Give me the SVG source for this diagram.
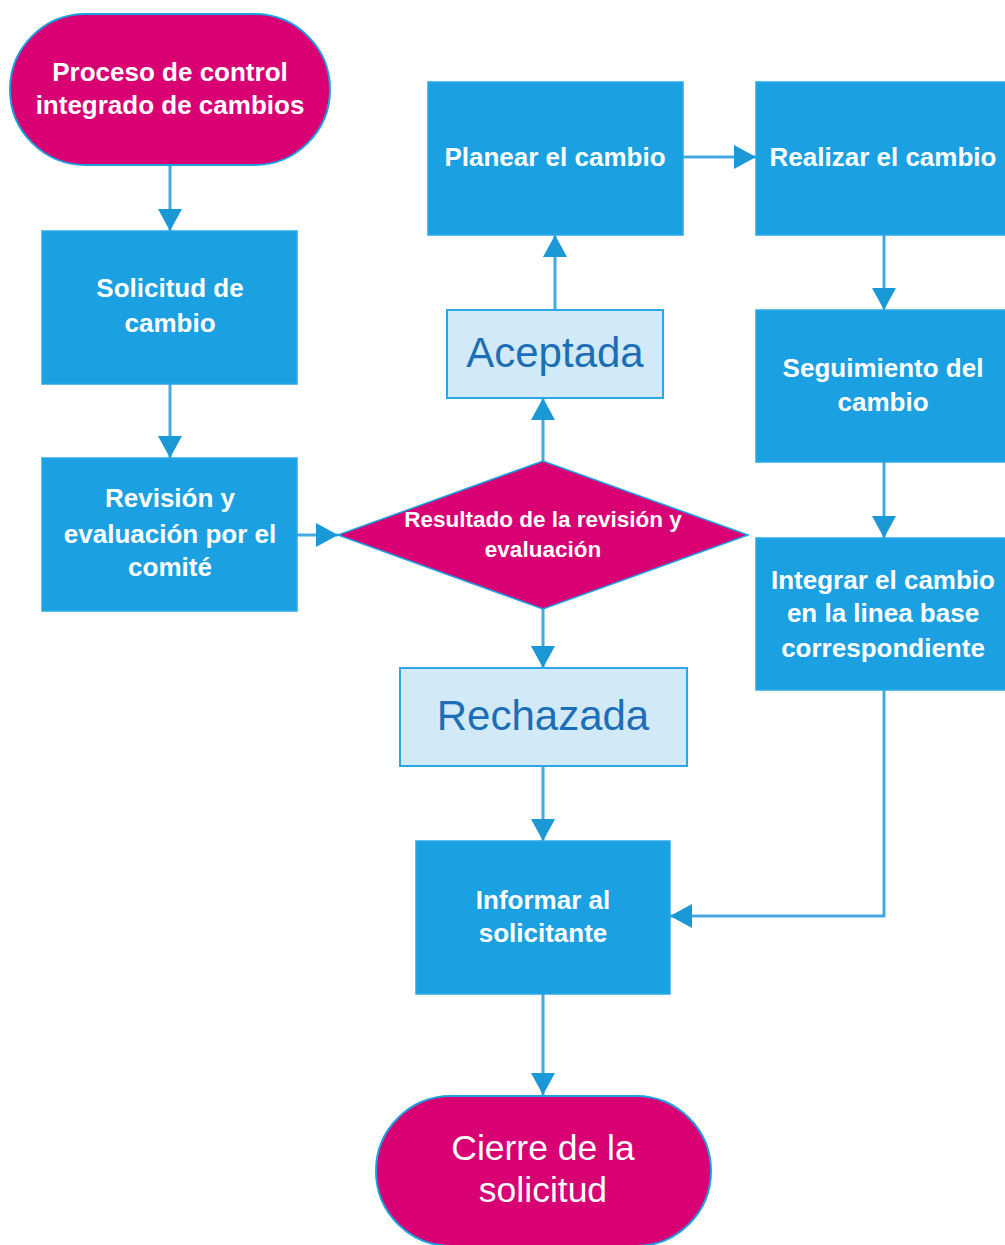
<svg xmlns="http://www.w3.org/2000/svg" width="1005" height="1245" viewBox="0 0 1005 1245">
<defs>
<style>
.box{fill:#1ba1e2;stroke:#2aa8e6;stroke-width:1.5}
.term{fill:#d80073;stroke:#1ba1e2;stroke-width:2}
.lbl{fill:#d2eaf7;stroke:#2aa8e6;stroke-width:2}
.wt{font-family:"Liberation Sans",Arial,sans-serif;font-weight:bold;font-size:26px;fill:#ffffff;text-anchor:middle}
.dt{font-family:"Liberation Sans",Arial,sans-serif;font-weight:bold;font-size:22.5px;fill:#ffffff;text-anchor:middle}
.tt{font-family:"Liberation Sans",Arial,sans-serif;font-size:35.5px;fill:#ffffff;text-anchor:middle}
.lt{font-family:"Liberation Sans",Arial,sans-serif;font-size:42px;fill:#1c6fb6;text-anchor:middle}
.con{fill:none;stroke:#45a9df;stroke-width:3;marker-end:url(#ah)}
</style>
<marker id="ah" markerUnits="userSpaceOnUse" markerWidth="24" markerHeight="26" refX="22" refY="12" orient="auto">
<path d="M0,0 L22,12 L0,24 Z" fill="#1b98d6"/>
</marker>
</defs>
<rect width="1005" height="1245" fill="#ffffff"/>
<g id="connectors">
<path class="con" d="M170,165 V231"/>
<path class="con" d="M170,384 V458"/>
<path class="con" d="M297,535 H338"/>
<path class="con" d="M543,461 V398"/>
<path class="con" d="M555,310 V235"/>
<path class="con" d="M683,157 H756"/>
<path class="con" d="M884,235 V310"/>
<path class="con" d="M884,462 V538"/>
<path class="con" d="M543,609 V668"/>
<path class="con" d="M543,766 V841"/>
<path class="con" d="M884,690 V916 H670"/>
<path class="con" d="M543,994 V1095"/>
</g>
<g id="start">
<rect class="term" x="10" y="14" width="320" height="151" rx="75.5"/>
<text class="wt" x="170" y="81">Proceso de control</text>
<text class="wt" x="170" y="114">integrado de cambios</text>
</g>
<g id="solicitud">
<rect class="box" x="42" y="231" width="255" height="153"/>
<text class="wt" x="170" y="297">Solicitud de</text>
<text class="wt" x="170" y="332">cambio</text>
</g>
<g id="revision">
<rect class="box" x="42" y="458" width="255" height="153"/>
<text class="wt" x="170" y="507">Revisión y</text>
<text class="wt" x="170" y="543">evaluación por el</text>
<text class="wt" x="170" y="576">comité</text>
</g>
<g id="resultado">
<polygon points="338,535 543,461 748,535 543,609" fill="#d80073" stroke="#1ba1e2" stroke-width="1.5"/>
<text class="dt" x="543" y="527">Resultado de la revisión y</text>
<text class="dt" x="543" y="557">evaluación</text>
</g>
<g id="aceptada">
<rect class="lbl" x="447" y="310" width="216" height="88"/>
<text class="lt" x="555" y="367" font-size="41">Aceptada</text>
</g>
<g id="planear">
<rect class="box" x="428" y="82" width="255" height="153"/>
<text class="wt" x="555" y="166">Planear el cambio</text>
</g>
<g id="realizar">
<rect class="box" x="756" y="82" width="255" height="153"/>
<text class="wt" x="883" y="166">Realizar el cambio</text>
</g>
<g id="seguimiento">
<rect class="box" x="756" y="310" width="255" height="152"/>
<text class="wt" x="883" y="377">Seguimiento del</text>
<text class="wt" x="883" y="411">cambio</text>
</g>
<g id="integrar">
<rect class="box" x="756" y="538" width="255" height="152"/>
<text class="wt" x="883" y="589">Integrar el cambio</text>
<text class="wt" x="883" y="622">en la linea base</text>
<text class="wt" x="883" y="657">correspondiente</text>
</g>
<g id="rechazada">
<rect class="lbl" x="400" y="668" width="287" height="98"/>
<text class="lt" x="543" y="730">Rechazada</text>
</g>
<g id="informar">
<rect class="box" x="416" y="841" width="254" height="153"/>
<text class="wt" x="543" y="909">Informar al</text>
<text class="wt" x="543" y="942">solicitante</text>
</g>
<g id="cierre">
<rect class="term" x="376" y="1096" width="335" height="150" rx="75"/>
<text class="tt" x="543" y="1160">Cierre de la</text>
<text class="tt" x="543" y="1202">solicitud</text>
</g>
</svg>
